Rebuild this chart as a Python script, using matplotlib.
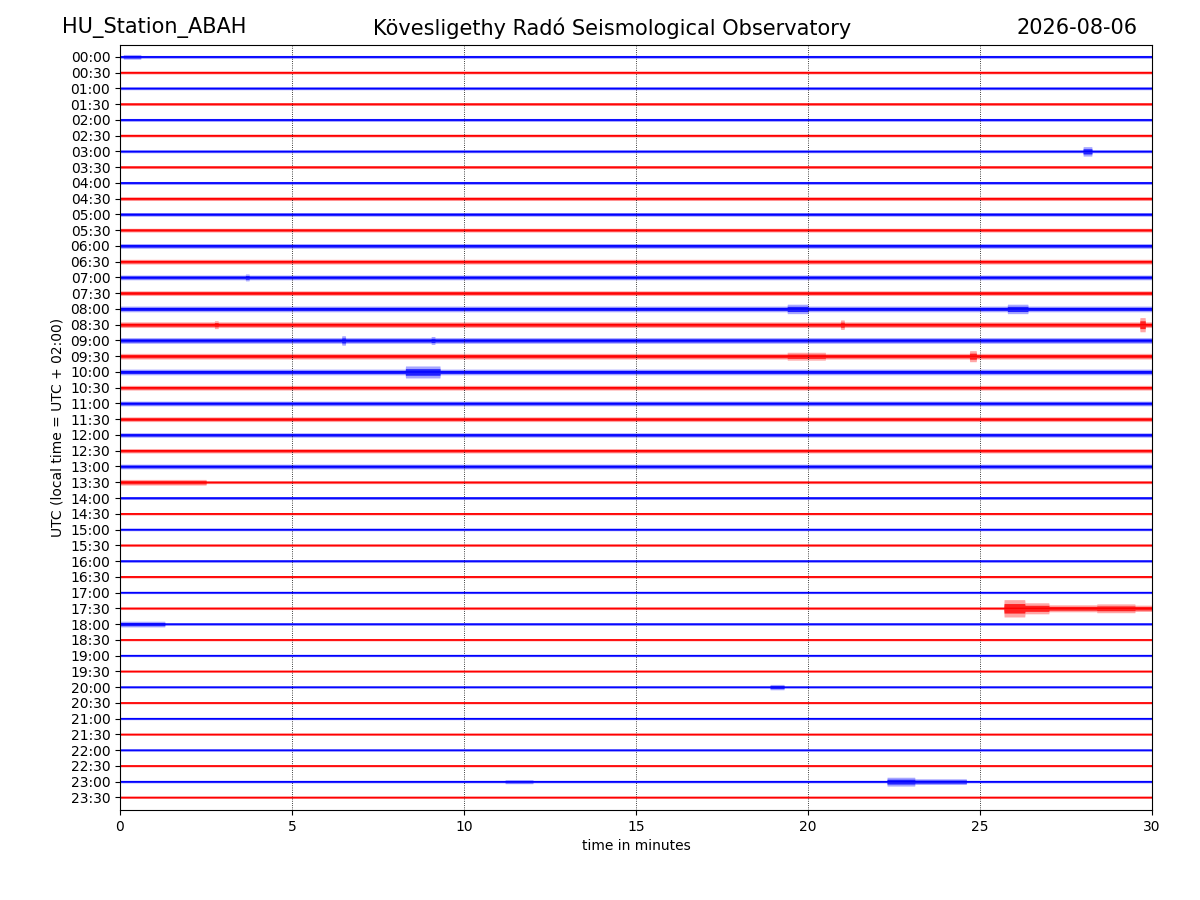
import numpy as np
import matplotlib
matplotlib.use("Agg")
import matplotlib.pyplot as plt

station = "HU_Station_ABAH"
observatory = "Kövesligethy Radó Seismological Observatory"
day = "2026-08-06"

# one trace per half hour, tick labels top to bottom
row_labels = ["%02d:%02d" % (h, m) for h in range(24) for m in (0, 30)]

# background noise half-width of each trace (in row spacings), read by eye
base_amp = [0.09, 0.09, 0.09, 0.09, 0.09, 0.09, 0.09, 0.09,
            0.09, 0.12, 0.12, 0.12, 0.15, 0.15, 0.15, 0.15,
            0.18, 0.18, 0.18, 0.18, 0.18, 0.15, 0.15, 0.15,
            0.14, 0.14, 0.15, 0.09, 0.09, 0.08, 0.08, 0.08,
            0.08, 0.08, 0.07, 0.08, 0.08, 0.07, 0.07, 0.07,
            0.07, 0.07, 0.07, 0.07, 0.07, 0.07, 0.08, 0.07]

# bursts: (row, start minute, end minute, half-width)
ev_row = [0, 6, 14, 16, 16, 17, 17, 17, 18, 18, 19, 19, 20, 27,
          35, 35, 35, 35, 35, 36, 40, 46, 46, 46]
ev_t0 = [0.1, 28.0, 3.65, 19.4, 25.8, 2.75, 20.95, 29.65, 6.45, 9.05, 19.4, 24.7, 8.3, 0.0,
         25.7, 26.3, 27.0, 28.4, 29.5, 0.0, 18.9, 11.2, 22.3, 23.1]
ev_t1 = [0.6, 28.25, 3.75, 20.0, 26.4, 2.85, 21.05, 29.8, 6.55, 9.15, 20.5, 24.9, 9.3, 2.5,
         26.3, 27.0, 28.4, 29.5, 30.0, 1.3, 19.3, 12.0, 23.1, 24.6]
ev_amp = [0.15, 0.3, 0.22, 0.3, 0.3, 0.25, 0.3, 0.45, 0.3, 0.25, 0.25, 0.35, 0.38, 0.18,
          0.55, 0.35, 0.22, 0.28, 0.2, 0.18, 0.17, 0.13, 0.28, 0.18]

colors = ["#0000ff", "#ff0000"]

t = np.linspace(0, 30, 3001)

fig, ax = plt.subplots(figsize=(12, 9), dpi=100)
fig.subplots_adjust(left=0.1, right=0.96, top=0.95, bottom=0.1)

for i, lab in enumerate(row_labels):
    env = np.full_like(t, base_amp[i])
    for r, a, b, amp in zip(ev_row, ev_t0, ev_t1, ev_amp):
        if r == i:
            sel = (t >= a) & (t <= b)
            env[sel] = np.maximum(env[sel], amp)
    c = colors[i % 2]
    ax.fill_between(t, i - env, i + env, color=c, alpha=0.35, lw=0)
    ax.fill_between(t, i - 0.55 * env, i + 0.55 * env, color=c, alpha=0.8, lw=0)
    ax.plot(t, np.full_like(t, i), color=c, lw=1)

ax.set_xlim(0, 30)
ax.set_ylim(len(row_labels) - 0.2, -0.75)
ax.set_yticks(range(len(row_labels)))
ax.set_yticklabels(row_labels)
ax.set_xticks(range(0, 31, 5))
ax.xaxis.grid(True, color="black", linestyle=":", lw=0.6)
ax.set_xlabel("time in minutes")
ax.set_ylabel("UTC (local time = UTC + 02:00)")

fig.text(0.052, 0.969, station, fontsize=15, ha="left", va="center")
fig.text(0.51, 0.969, observatory, fontsize=15, ha="center", va="center")
fig.text(0.948, 0.969, day, fontsize=15, ha="right", va="center")

fig.savefig("out.png", dpi=100)
